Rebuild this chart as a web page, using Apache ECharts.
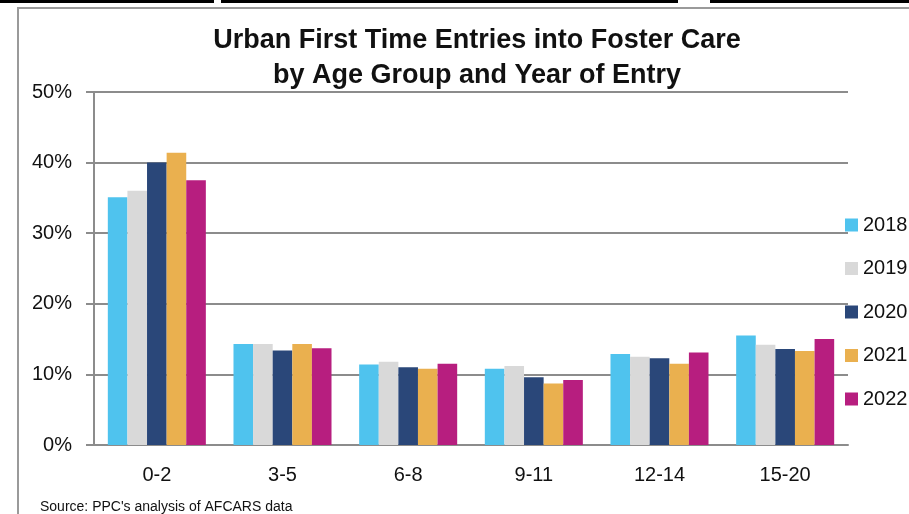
<!DOCTYPE html>
<html>
<head>
<meta charset="utf-8">
<script src="https://cdn.jsdelivr.net/npm/echarts@6/dist/echarts.min.js"></script>
<style>
  html, body { margin: 0; padding: 0; background: #fff; }
  #chart { width: 909px; height: 514px; }
</style>
</head>
<body>
<div id="chart"></div>
<script>
var ageGroups = ['0-2', '3-5', '6-8', '9-11', '12-14', '15-20'];
var years = ['2018', '2019', '2020', '2021', '2022'];
var colors = ['#4FC3EE', '#D9D9D9', '#2A4779', '#EAB04F', '#B71E7F'];

// percent of first time entries
var v2018 = [35.1, 14.3, 11.4, 10.8, 12.9, 15.5];
var v2019 = [36.0, 14.3, 11.8, 11.2, 12.5, 14.2];
var v2020 = [40.0, 13.4, 11.0, 9.6, 12.3, 13.6];
var v2021 = [41.4, 14.3, 10.8, 8.7, 11.5, 13.3];
var v2022 = [37.5, 13.7, 11.5, 9.2, 13.1, 15.0];
var values = [v2018, v2019, v2020, v2021, v2022];

var font = 'Liberation Sans, Arial, sans-serif';

var chart = echarts.init(document.getElementById('chart'));

var series = years.map(function(y, i) {
	return {
		name : y,
		type : 'bar',
		data : values[i],
		barGap : '0%',
		barCategoryGap : '22%',
		itemStyle : {
			color : colors[i]
		},
		silent : true
	};
});

var option = {
	animation : false,
	title : {
		text : 'Urban First Time Entries into Foster Care\nby Age Group and Year of Entry',
		left : 472,
		top : 18,
		textAlign : 'center',
		textStyle : {
			fontFamily : font,
			fontWeight : 'bold',
			fontSize : 27,
			lineHeight : 35,
			color : '#111'
		}
	},
	legend : {
		orient : 'vertical',
		left : 840,
		top : 208,
		itemWidth : 13,
		itemHeight : 13,
		itemGap : 19.5,
		icon : 'rect',
		textStyle : {
			fontFamily : font,
			fontSize : 20,
			lineHeight : 24,
			color : '#111',
			padding : [0, 0, 0, 0]
		},
		data : years
	},
	grid : {
		left : 94,
		right : 61,
		top : 92,
		bottom : 69
	},
	xAxis : {
		type : 'category',
		data : ageGroups,
		axisLine : {
			lineStyle : {
				color : '#8c8c8c',
				width : 2
			}
		},
		axisTick : {
			length : 7,
			lineStyle : {
				color : '#8c8c8c',
				width : 2
			}
		},
		axisLabel : {
			fontFamily : font,
			fontSize : 20,
			color : '#111',
			margin : 20
		}
	},
	yAxis : {
		type : 'value',
		min : 0,
		max : 50,
		interval : 10,
		axisLine : {
			show : true,
			lineStyle : {
				color : '#8c8c8c',
				width : 2
			}
		},
		axisTick : {
			show : true,
			length : 8,
			lineStyle : {
				color : '#8c8c8c',
				width : 2
			}
		},
		splitLine : {
			lineStyle : {
				color : '#8c8c8c',
				width : 2
			}
		},
		axisLabel : {
			fontFamily : font,
			fontSize : 20,
			color : '#111',
			margin : 22,
			formatter : '{value}%'
		}
	},
	graphic : [ {
		type : 'rect',
		shape : { x : 0, y : 0, width : 214, height : 3 },
		style : { fill : '#000' },
		silent : true
	}, {
		type : 'rect',
		shape : { x : 221, y : 0, width : 457, height : 3 },
		style : { fill : '#000' },
		silent : true
	}, {
		type : 'rect',
		shape : { x : 710, y : 0, width : 199, height : 3 },
		style : { fill : '#000' },
		silent : true
	}, {
		// chart frame, left and top edges
		type : 'polyline',
		shape : { points : [ [18, 514], [18, 8], [909, 8] ] },
		style : { stroke : '#9a9a9a', lineWidth : 2, fill : null },
		silent : true
	}, {
		type : 'text',
		left : 40,
		top : 500,
		style : {
			text : "Source: PPC's analysis of AFCARS data",
			fontFamily : font,
			fontSize : 14,
			fill : '#111'
		},
		silent : true
	} ],
	series : series
};

chart.setOption(option);
</script>
</body>
</html>
